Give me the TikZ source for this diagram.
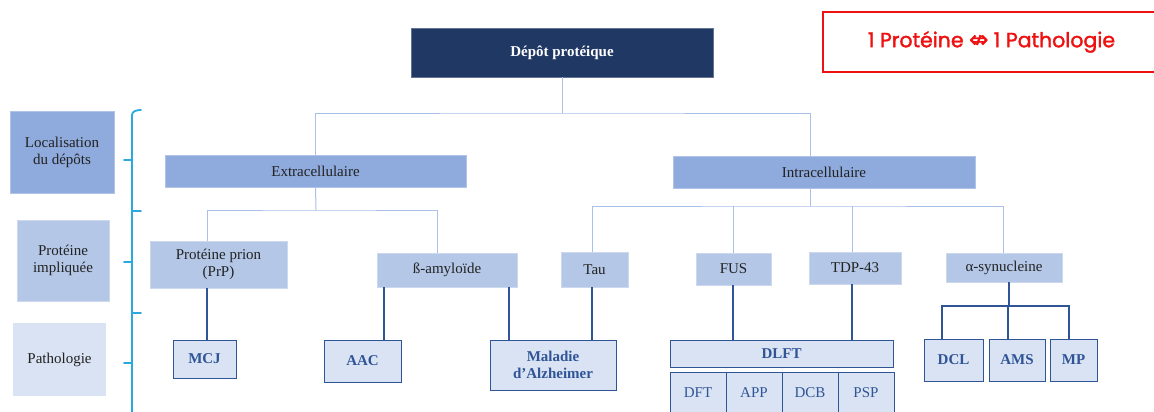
\documentclass[tikz,border=0pt]{standalone}
\usepackage{fontspec}
\setmainfont{Liberation Serif}
\newfontfamily\redfont[FakeBold=1.6]{Poppins}
\newfontfamily\symfont[FakeBold=1.6]{DejaVu Sans}
\definecolor{navy}{HTML}{203864}
\definecolor{lvA}{HTML}{8FAADC}
\definecolor{lvB}{HTML}{B4C7E7}
\definecolor{lvC}{HTML}{DAE3F3}
\definecolor{dkblue}{HTML}{2F5597}
\definecolor{lightline}{HTML}{A9C0E8}
\definecolor{brkblue}{HTML}{2AA8E0}
\definecolor{txt}{HTML}{222222}
\definecolor{redc}{HTML}{EE1111}
\begin{document}
\begin{tikzpicture}[x=1pt,y=-1pt,
  every node/.style={inner sep=0pt,outer sep=0pt,font=\fontsize{15}{17}\selectfont,text=txt,align=center},
  boxA/.style={fill=lvA,draw=lvA!70!white,line width=0.6pt},
  boxB/.style={fill=lvB,draw=lvB!70!white,line width=0.6pt},
  boxC/.style={fill=lvC,draw=dkblue,line width=1pt,text=dkblue,font=\fontsize{15}{17}\selectfont\bfseries},
  boxD/.style={fill=lvC,draw=dkblue,line width=1pt,text=dkblue},
  light/.style={draw=lightline,line width=1pt},
  dark/.style={draw=dkblue,line width=1.1pt},
  brk/.style={draw=brkblue,line width=1.8pt,line cap=round}]
\useasboundingbox (0,0) rectangle (1154,412);
\fill[white] (0,0) rectangle (1154,412);

% header
\node[fill=navy,draw=navy!70!white,line width=0.6pt,minimum width=302pt,minimum height=49pt,text=white,font=\fontsize{15}{17}\selectfont\bfseries] (dep) at (562,52.5) {Dépôt protéique};
\node[draw=redc,line width=1.2pt,minimum width=337pt,minimum height=60pt,text=redc,font=\fontsize{20.5}{24}\selectfont\redfont] (red) at (991.5,42) {1 Protéine {\symfont\fontsize{23}{24}\selectfont ⇎} 1 Pathologie};

% left column
\node[boxA,minimum width=104pt,minimum height=82pt] (loc) at (62,152) {Localisation\\du dépôts};
\node[boxB,minimum width=92pt,minimum height=81pt] (prot) at (63,260.5) {Protéine\\impliquée};
\node[fill=lvC,minimum width=93pt,minimum height=73pt] (path) at (59.5,359.5) {Pathologie};

% bracket
\draw[brk] (141,110) to[out=180,in=90] (132,115) -- (132,414);
\draw[brk] (132,160) -- (124,160);
\draw[brk] (132,211) -- (141,211);
\draw[brk] (132,262) -- (124,262);
\draw[brk] (132,313) -- (141,313);
\draw[brk] (132,363) -- (124,363);

% level 1
\node[boxA,minimum width=301pt,minimum height=32pt] (ext) at (315.5,171) {Extracellulaire};
\node[boxA,minimum width=302pt,minimum height=32pt] (int) at (824,172) {Intracellulaire};

% level 2
\node[boxB,minimum width=137pt,minimum height=47pt] (prion) at (218.5,264.5) {Protéine prion\\(PrP)};
\node[boxB,minimum width=140pt,minimum height=34pt] (beta) at (447,270) {ß-amyloïde};
\node[boxB,minimum width=67pt,minimum height=35pt] (tau) at (594.5,269.5) {Tau};
\node[boxB,minimum width=75pt,minimum height=32pt] (fus) at (733.5,269) {FUS};
\node[boxB,minimum width=92pt,minimum height=32pt] (tdp) at (855,268) {TDP-43};
\node[boxB,minimum width=116pt,minimum height=29pt] (asyn) at (1004,267.5) {α-synucleine};

% level 3
\node[boxC,minimum width=63pt,minimum height=38pt] (mcj) at (204.5,359) {MCJ};
\node[boxC,minimum width=77pt,minimum height=42pt] (aac) at (362.5,361) {AAC};
\node[boxC,minimum width=126pt,minimum height=50pt] (alz) at (553,365) {Maladie\\d’Alzheimer};
\node[boxC,minimum width=223pt,minimum height=27pt] (dlft) at (781.5,353.5) {DLFT};
\node[boxD,minimum width=56pt,minimum height=42pt] (dft) at (698,393) {DFT};
\node[boxD,minimum width=56pt,minimum height=42pt] (app) at (754,393) {APP};
\node[boxD,minimum width=56pt,minimum height=42pt] (dcb) at (810,393) {DCB};
\node[boxD,minimum width=56pt,minimum height=42pt] (psp) at (866,393) {PSP};
\node[boxC,minimum width=59pt,minimum height=42pt] (dcl) at (953.5,360) {DCL};
\node[boxC,minimum width=56pt,minimum height=42pt] (ams) at (1017,360) {AMS};
\node[boxC,minimum width=47pt,minimum height=42pt] (mp) at (1073.5,360) {MP};

% light connectors
\coordinate (j0) at (562,113);
\draw[light] (dep.south) -- (j0);
\draw[light] (ext.north) |- (j0) -| ([xshift=-14pt]int.north);
\coordinate (j1) at (316,210);
\draw[light] (ext.south) -- (j1);
\draw[light] ([xshift=-11.5pt]prion.north) |- (j1) -| ([xshift=-10pt]beta.north);
\coordinate (j2) at (810,206);
\draw[light] ([xshift=-14pt]int.south) -- (j2);
\draw[light] ([xshift=-2.5pt]tau.north) |- (j2) -| ([xshift=-1pt]asyn.north);
\draw[light] ([xshift=-0.5pt]fus.north) -- ([xshift=-0.5pt]fus.north |- j2);
\draw[light] ([xshift=-3pt]tdp.north) -- ([xshift=-3pt]tdp.north |- j2);

% dark connectors
\draw[dark] ([xshift=-11.5pt]prion.south) -- ([xshift=-11.5pt]prion.south |- mcj.north);
\draw[dark] ([xshift=-63pt]beta.south) -- ([xshift=-63pt]beta.south |- aac.north);
\draw[dark] ([xshift=62pt]beta.south) -- ([xshift=62pt]beta.south |- alz.north);
\draw[dark] ([xshift=-2.5pt]tau.south) -- ([xshift=-2.5pt]tau.south |- alz.north);
\draw[dark] ([xshift=-0.5pt]fus.south) -- ([xshift=-0.5pt]fus.south |- dlft.north);
\draw[dark] ([xshift=-3pt]tdp.south) -- ([xshift=-3pt]tdp.south |- dlft.north);
\coordinate (j3) at (1009,306);
\draw[dark] ([xshift=5pt]asyn.south) -- (j3);
\draw[dark] ([xshift=-11.5pt]dcl.north) |- (j3) -| ([xshift=-4.5pt]mp.north);
\draw[dark] ([xshift=-9pt]ams.north) -- ([xshift=-9pt]ams.north |- j3);
\end{tikzpicture}
\end{document}
